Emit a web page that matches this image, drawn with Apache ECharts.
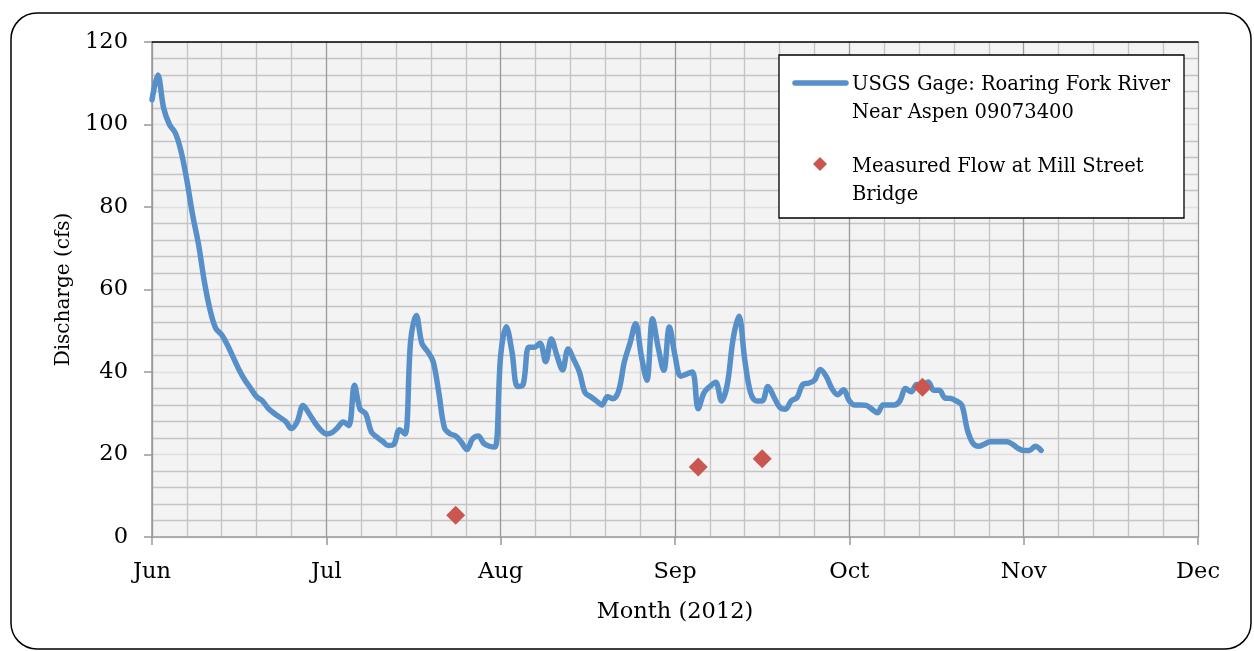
<!DOCTYPE html>
<html><head><meta charset="utf-8">
<script src="https://cdn.jsdelivr.net/npm/echarts@6/dist/echarts.min.js"></script>
<style>html,body{margin:0;padding:0;background:#fff}#c{width:1254px;height:651px}</style>
</head><body><div id="c"></div>
<script>
const monthLabels = ['Jun','Jul','Aug','Sep','Oct','Nov','Dec'];
const junFlow = [106,112,104,100,98,93.5,86.5,78,71,62, 55,50.5,49,46.5,43.5,40.5,38,36,34,33, 31.2,30,29,28,26.3,28,31.9,30,27.8,26];
const julFlow = [25,25.3,26.5,27.9,27,36.8,31,29.9,25.5,24.2, 23.2,22.2,22.5,26,25,47.7,53.7,46.9,45,42.5, 35,26.5,25,24.5,23,21.2,23.8,24.5,22.7,22, 21.8];
const augFlow = [44,51,45,36.5,37,46,46,47,42.5,48, 44,40.5,45.6,43,40,35,34,33,32,34, 33.5,35.5,42.5,47,51.7,44,38,52.9,46,40.4, 50.9];
const sepFlow = [44,39,39.5,40,31.1,35,36.5,37.5,33,37, 48,53.5,43,35,33,33,36.5,34,31.5,31, 33,33.8,37,37.3,38,40.6,39,36,34.5,35.7];
const octFlow = [33,32,32,31.9,31,30.1,32,32,32,33, 36,35.2,37,37,37.6,35.6,35.6,33.7,33.6,33, 32,25.9,22.7,22,22.5,23.1,23.1,23.1,23.1,22.5, 21.5];
const novFlow = [21,21,22,21];
const measuredDates = ['2012-07-24','2012-09-05','2012-09-16','2012-10-14'];
const measuredValues = [5.3,17,19,36.3];

function monthPos(s){
  const p = s.split('-').map(Number);
  const days = new Date(p[0], p[1], 0).getDate();
  return (p[1]-6) + (p[2]-1)/days;
}
function pad(n){return (n<10?'0':'')+n;}
const flowMonths = [[6,junFlow],[7,julFlow],[8,augFlow],[9,sepFlow],[10,octFlow],[11,novFlow]];
const flowData = [];
flowMonths.forEach(([m,arr])=>{
  arr.forEach((v,i)=>{ flowData.push([monthPos('2012-'+pad(m)+'-'+pad(i+1)), v]); });
});
const measData = measuredDates.map((d,i)=>[monthPos(d), measuredValues[i]]);

const FONT = 'DejaVu Serif';
const BLUE = '#5790c9';
const RED = '#c9574f';
const chart = echarts.init(document.getElementById('c'), null, {renderer:'canvas'});
chart.setOption({
  animation:false,
  backgroundColor:'#fff',
  textStyle:{fontFamily:FONT},
  grid:{left:152,right:56,top:42,bottom:114,show:true,backgroundColor:'#f3f3f3',borderWidth:0},
  xAxis:[{
    type:'value',min:0,max:6,interval:1,
    axisLine:{show:true,lineStyle:{color:'#999',width:1.5}},
    axisTick:{show:true,length:8,lineStyle:{color:'#999',width:1.5}},
    axisLabel:{formatter:v=>monthLabels[Math.round(v)],fontFamily:FONT,fontSize:22.5,color:'#000',margin:24},
    splitLine:{show:true,lineStyle:{color:'#9a9a9a',width:1.3}},
    minorTick:{show:false,splitNumber:5},
    minorSplitLine:{show:true,lineStyle:{color:'#c4c4c4',width:1.3}},
    name:'Month (2012)',nameLocation:'middle',nameGap:64,
    nameTextStyle:{fontFamily:FONT,fontSize:22.5,color:'#000'}
  },{
    type:'value',position:'top',min:0,max:6,
    axisLine:{show:true,lineStyle:{color:'#000',width:1.5}},
    axisTick:{show:false},axisLabel:{show:false},splitLine:{show:false}
  }],
  yAxis:{
    type:'value',min:0,max:120,interval:20,
    axisLine:{show:true,lineStyle:{color:'#999',width:1.5}},
    axisTick:{show:true,length:8,lineStyle:{color:'#999',width:1.5}},
    axisLabel:{fontFamily:FONT,fontSize:22.5,color:'#000',margin:24},
    splitLine:{show:true,lineStyle:{color:'#e0e0e0',width:1.3}},
    minorTick:{show:false,splitNumber:5},
    minorSplitLine:{show:true,lineStyle:{color:'#c4c4c4',width:1.3}},
    name:'Discharge (cfs)',nameLocation:'middle',nameGap:78,nameRotate:90,
    nameTextStyle:{fontFamily:FONT,fontSize:20,color:'#000'}
  },
  series:[{
    name:'USGS Gage: Roaring Fork River Near Aspen 09073400',
    type:'line',data:flowData,smooth:0.35,showSymbol:false,
    lineStyle:{color:BLUE,width:5.5,cap:'round',join:'round'},z:3
  },{
    name:'Measured Flow at Mill Street Bridge',
    type:'scatter',data:measData,symbol:'diamond',symbolSize:[19,19],
    itemStyle:{color:RED,opacity:1},z:4
  }],
  graphic:[
    {type:'rect',z:-10,silent:true,shape:{x:11,y:13,width:1240,height:636,r:26},style:{fill:'none',stroke:'#000',lineWidth:1.5}},
    {type:'rect',z:100,zlevel:1,shape:{x:779,y:55,width:405,height:163},style:{fill:'#fff',stroke:'#000',lineWidth:1.3}},
    {type:'line',z:101,zlevel:1,shape:{x1:795,y1:83,x2:846,y2:83},style:{stroke:BLUE,lineWidth:5.5,lineCap:'round'}},
    {type:'text',z:101,zlevel:1,x:852,y:71,style:{text:'USGS Gage: Roaring Fork River\nNear Aspen 09073400',fontFamily:FONT,fontSize:19.5,lineHeight:28,fill:'#000'}},
    {type:'polygon',z:101,zlevel:1,shape:{points:[[820,157],[827,164],[820,171],[813,164]]},style:{fill:RED}},
    {type:'text',z:101,zlevel:1,x:852,y:153,style:{text:'Measured Flow at Mill Street\nBridge',fontFamily:FONT,fontSize:19.5,lineHeight:28,fill:'#000'}}
  ]
});
</script></body></html>
